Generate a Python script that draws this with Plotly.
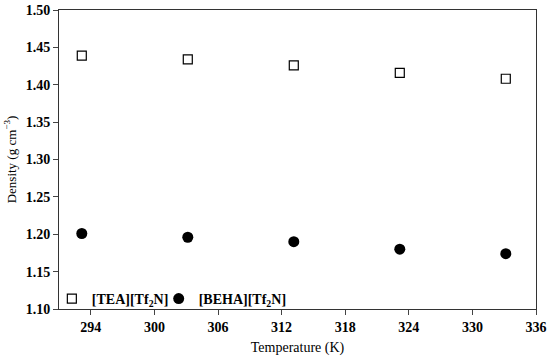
import plotly.graph_objects as go

temperature = [293.15, 303.15, 313.15, 323.15, 333.15]
tea_density = [1.439, 1.434, 1.426, 1.416, 1.408]
beha_density = [1.201, 1.196, 1.190, 1.180, 1.174]
x_ticks = [294, 300, 306, 312, 318, 324, 330, 336]
y_ticks = [1.10, 1.15, 1.20, 1.25, 1.30, 1.35, 1.40, 1.45, 1.50]

fig = go.Figure()
fig.add_trace(go.Scatter(x=temperature, y=tea_density, mode="markers",
                         name="[TEA][Tf<sub>2</sub>N]", legend="legend",
                         marker=dict(symbol="square-open", size=9, color="black",
                                     line=dict(width=1.2, color="black"))))
fig.add_trace(go.Scatter(x=temperature, y=beha_density, mode="markers",
                         name="[BEHA][Tf<sub>2</sub>N]", legend="legend2",
                         marker=dict(symbol="circle", size=11, color="black")))

font_family = "Liberation Serif"
legend_common = dict(orientation="h", xanchor="left", yanchor="bottom",
                     bgcolor="rgba(0,0,0,0)",
                     font=dict(size=14, family=font_family, weight="bold"),
                     itemwidth=30)
fig.update_layout(
    width=550, height=357,
    margin=dict(l=59, r=14, t=10, b=48, autoexpand=False),
    plot_bgcolor="white", paper_bgcolor="white",
    font=dict(family=font_family, color="black"),
    showlegend=True,
    legend=dict(x=-0.015, y=-0.02, **legend_common),
    legend2=dict(x=0.209, y=-0.02, **legend_common),
)
fig.update_xaxes(range=[291, 336], tickvals=x_ticks, ticks="outside", ticklen=5,
                 showline=True, linecolor="#333", linewidth=1, mirror=True,
                 showgrid=False, zeroline=False, automargin=False,
                 tickfont=dict(size=14, weight="bold"),
                 title=dict(text="Temperature (K)", font=dict(size=14), standoff=8))
fig.update_yaxes(range=[1.10, 1.50], tickvals=y_ticks, tickformat=".2f", ticks="outside", ticklen=5,
                 showline=True, linecolor="#333", linewidth=1, mirror=True,
                 showgrid=False, zeroline=False, automargin=False,
                 tickfont=dict(size=14, weight="bold"),
                 title=dict(text="Density (g cm<sup>−3</sup>)", font=dict(size=13), standoff=6))
fig.write_html("out.html", config={"displayModeBar": False},
               post_script="document.body.style.margin='0';")
